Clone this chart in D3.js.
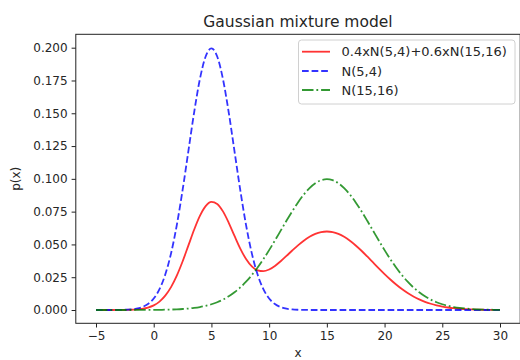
<!DOCTYPE html>
<html>
<head>
<meta charset="utf-8">
<script src="https://cdn.jsdelivr.net/npm/d3@7"></script>
<style>
  body { margin: 0; background: #fff; }
  text { font-family: "DejaVu Sans", sans-serif; fill: #262626; }
</style>
</head>
<body>
<div id="chart"></div>
<script>
// sampled x values
var xs = [-5,-4.5,-4,-3.5,-3,-2.5,-2,-1.5,-1,-0.5,0,0.5,1,1.5,2,2.5,3,3.5,4,4.5,
  5,5.5,6,6.5,7,7.5,8,8.5,9,9.5,10,10.5,11,11.5,12,12.5,13,13.5,14,14.5,
  15,15.5,16,16.5,17,17.5,18,18.5,19,19.5,20,20.5,21,21.5,22,22.5,23,23.5,24,24.5,
  25,25.5,26,26.5,27,27.5,28,28.5,29,29.5,30];

// mixture 0.4xN(5,4)+0.6xN(15,16)
var mix = [0,0,0,0.00001,0.00003,0.00008,0.00018,0.00042,0.00091,0.00185,
  0.00356,0.00643,0.01093,0.01746,0.02621,0.03698,0.04906,0.06119,0.07177,0.07924,
  0.08242,0.08090,0.07518,0.06649,0.05649,0.04685,0.03885,0.03324,0.03023,0.02960,
  0.03090,0.03360,0.03719,0.04122,0.04535,0.04930,0.05284,0.05579,0.05801,0.05938,
  0.05984,0.05938,0.05800,0.05578,0.05281,0.04922,0.04517,0.04081,0.03630,0.03178,
  0.02740,0.02326,0.01943,0.01598,0.01294,0.01032,0.00810,0.00626,0.00476,0.00356,
  0.00263,0.00191,0.00136,0.00096,0.00067,0.00046,0.00031,0.00020,0.00013,0.00008,0.00005];

// N(5,4)
var n1 = [0,0,0.00001,0.00002,0.00007,0.00018,0.00044,0.00101,0.00222,0.00455,
  0.00876,0.01587,0.02700,0.04314,0.06476,0.09132,0.12098,0.15057,0.17603,0.19333,
  0.19947,0.19333,0.17603,0.15057,0.12098,0.09132,0.06476,0.04314,0.02700,0.01587,
  0.00876,0.00455,0.00222,0.00101,0.00044,0.00018,0.00007,0.00002,0.00001,0,
  0,0,0,0,0,0,0,0,0,0,
  0,0,0,0,0,0,0,0,0,0,
  0,0,0,0,0,0,0,0,0,0,0];

// N(15,16)
var n2 = [0,0,0,0,0,0.00001,0.00001,0.00002,0.00003,0.00005,
  0.00009,0.00014,0.00022,0.00034,0.00051,0.00076,0.00111,0.00160,0.00227,0.00318,
  0.00438,0.00594,0.00794,0.01043,0.01350,0.01720,0.02157,0.02664,0.03238,0.03876,
  0.04566,0.05297,0.06050,0.06802,0.07529,0.08204,0.08802,0.09297,0.09667,0.09896,
  0.09974,0.09896,0.09667,0.09297,0.08802,0.08204,0.07529,0.06802,0.06050,0.05297,
  0.04566,0.03876,0.03238,0.02664,0.02157,0.01720,0.01350,0.01043,0.00794,0.00594,
  0.00438,0.00318,0.00227,0.00160,0.00111,0.00076,0.00051,0.00034,0.00022,0.00014,0.00009];

var xTicks = [-5, 0, 5, 10, 15, 20, 25, 30];
var yTicks = [0, 0.025, 0.05, 0.075, 0.1, 0.125, 0.15, 0.175, 0.2];
var labels = ["0.4xN(5,4)+0.6xN(15,16)", "N(5,4)", "N(15,16)"];

var svgWidth = 520;
var svgHeight = 360;

var svg = d3.select("#chart").append("svg")
    .attr("width", svgWidth)
    .attr("height", svgHeight);

// scales fitted to the tick positions in the picture
var xscale = d3.scaleLinear().domain([-5, 30]).range([96, 500]);
var yscale = d3.scaleLinear().domain([0, 0.2]).range([310, 47.7]);

// axes box (matplotlib style 5% margins)
var boxLeft = xscale(-6.75), boxRight = xscale(31.75);
var boxTop = 34.3, boxBottom = 323.3;

// series styles
var series = [
  {name: labels[0], values: mix, color: "#ff0000", dash: null},
  {name: labels[1], values: n1, color: "#0000ff", dash: "6.7,2.9"},
  {name: labels[2], values: n2, color: "#008000", dash: "11.5,2.9,1.8,2.9"}
];

var line = d3.line()
    .x(function(d) { return xscale(d[0]); })
    .y(function(d) { return yscale(d[1]); })
    .curve(d3.curveMonotoneX);

series.forEach(function(s) {
  var pts = xs.map(function(x, i) { return [x, s.values[i]]; });
  svg.append("path")
    .datum(pts)
    .attr("d", line)
    .attr("fill", "none")
    .attr("stroke", s.color)
    .attr("stroke-opacity", 0.8)
    .attr("stroke-width", 1.8)
    .attr("stroke-dasharray", s.dash);
});

// bottom axis
var xAxis = d3.axisBottom(xscale).tickValues(xTicks).tickSize(4.2).tickPadding(4).tickSizeOuter(0);
var gx = svg.append("g")
    .attr("transform", `translate(0, ${boxBottom})`)
    .call(xAxis);
gx.select(".domain").remove();
gx.selectAll("line").attr("stroke", "#222");
gx.selectAll("text").style("font-size", "12px").attr("fill", "#262626");

// left axis
var yAxis = d3.axisLeft(yscale).tickValues(yTicks).tickFormat(d3.format(".3f")).tickSize(4.2).tickPadding(4).tickSizeOuter(0);
var gy = svg.append("g")
    .attr("transform", `translate(${boxLeft}, 0)`)
    .call(yAxis);
gy.select(".domain").remove();
gy.selectAll("line").attr("stroke", "#222");
gy.selectAll("text").style("font-size", "12px").attr("fill", "#262626");

// frame
svg.append("rect")
    .attr("x", boxLeft)
    .attr("y", boxTop)
    .attr("width", boxRight - boxLeft)
    .attr("height", boxBottom - boxTop)
    .attr("fill", "none")
    .attr("stroke", "#222")
    .attr("stroke-width", 1);

// title and axis labels
svg.append("text")
    .attr("x", (boxLeft + boxRight) / 2)
    .attr("y", 26.5)
    .attr("text-anchor", "middle")
    .style("font-size", "15.5px")
    .text("Gaussian mixture model");

svg.append("text")
    .attr("transform", `translate(19.5, ${(boxTop + boxBottom) / 2}) rotate(-90)`)
    .attr("text-anchor", "middle")
    .style("font-size", "12px")
    .text("p(x)");

svg.append("text")
    .attr("x", (boxLeft + boxRight) / 2)
    .attr("y", 357)
    .attr("text-anchor", "middle")
    .style("font-size", "12px")
    .text("x");

// legend
var legend = svg.append("g");
legend.append("rect")
    .attr("x", 298.5)
    .attr("y", 40)
    .attr("width", 216.5)
    .attr("height", 64)
    .attr("rx", 3)
    .attr("fill", "#fff")
    .attr("fill-opacity", 0.8)
    .attr("stroke", "#d0d0d0");

var rowY = [51.7, 71, 90];
series.forEach(function(s, i) {
  legend.append("line")
    .attr("x1", 302)
    .attr("x2", 330)
    .attr("y1", rowY[i])
    .attr("y2", rowY[i])
    .attr("stroke", s.color)
    .attr("stroke-opacity", 0.8)
    .attr("stroke-width", 1.8)
    .attr("stroke-dasharray", s.dash);
  legend.append("text")
    .attr("x", 341.5)
    .attr("y", rowY[i])
    .attr("dy", "0.36em")
    .style("font-size", "13px")
    .text(s.name);
});
</script>
</body>
</html>
